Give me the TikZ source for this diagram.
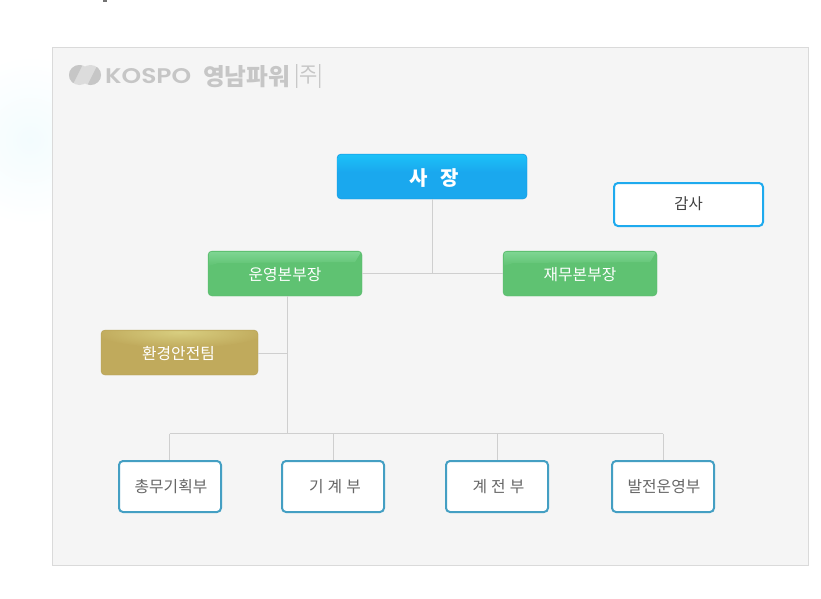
\documentclass[tikz,border=0pt]{standalone}
\usepackage{fontspec}
\setmainfont{Noto Sans CJK KR}
\newfontfamily\latinlogo{Poppins SemiBold}
\usetikzlibrary{calc}
\definecolor{panelbg}{HTML}{F5F5F5}
\definecolor{panelln}{HTML}{DADADA}
\definecolor{connln}{HTML}{CFCFCF}
\definecolor{blueA}{HTML}{1AA8EE}
\definecolor{blueB}{HTML}{1CC2F8}
\definecolor{blueE}{HTML}{1597DD}
\definecolor{greenA}{HTML}{5FC272}
\definecolor{greenB}{HTML}{7ED592}
\definecolor{greenE}{HTML}{58B86C}
\definecolor{goldA}{HTML}{C0AA5C}
\definecolor{goldB}{HTML}{D8CE80}
\definecolor{goldE}{HTML}{B49F55}
\definecolor{auditln}{HTML}{1EAAEE}
\definecolor{deptln}{HTML}{449FC3}
\definecolor{depttx}{HTML}{666666}
\definecolor{logogr}{HTML}{C6C6C6}
\definecolor{logolt}{HTML}{DCDCDC}
\definecolor{glow}{HTML}{F3FCFE}
\tikzset{
  x=1pt,y=-1pt,
  boxbase/.style={rectangle,rounded corners=4pt,inner sep=0pt,align=center},
  blueb/.style={boxbase,draw=blueE,fill=blueA},
  greenb/.style={boxbase,draw=greenE,fill=greenA},
  goldb/.style={boxbase,draw=goldE,fill=goldA},
  auditb/.style={boxbase,draw=auditln,line width=2pt,fill=white},
  deptb/.style={boxbase,draw=deptln,line width=2pt,fill=white},
  ceotx/.style={inner sep=0pt,text=white,font=\bfseries\fontsize{20}{22}\selectfont},
  whitetx/.style={inner sep=0pt,text=white,font=\fontsize{15.8}{18}\selectfont},
  audittx/.style={inner sep=0pt,text=black!75,font=\fontsize{15.5}{18}\selectfont},
  depttxs/.style={inner sep=0pt,text=depttx,font=\fontsize{15.8}{18}\selectfont},
  conn/.style={draw=connln,line width=1pt},
  logotx/.style={inner sep=0pt,text=logogr}
}
\begin{document}
\begin{tikzpicture}
\useasboundingbox (0,0) rectangle (821,598);
\fill[white] (0,0) rectangle (821,598);
\begin{scope}
\clip (0,0) rectangle (52,598);
\shade[inner color=glow,outer color=white] (30,140) ellipse [x radius=85,y radius=85];
\end{scope}
\fill[black!55] (103,0) rectangle (107,1.5);
\filldraw[draw=panelln,fill=panelbg,line width=1pt] (52.5,47.5) rectangle (808.5,565.5);

% logo
\fill[logolt] (79.5,75) ellipse [x radius=10.5,y radius=10];
\fill[logolt] (90.5,75) ellipse [x radius=10.5,y radius=10];
\begin{scope}
\clip (60,60) -- (85,60) -- (70,90) -- (60,90) -- cycle;
\fill[logogr] (79.5,75) ellipse [x radius=10.5,y radius=10];
\end{scope}
\begin{scope}
\clip (110,60) -- (100,60) -- (85,90) -- (110,90) -- cycle;
\fill[logogr] (90.5,75) ellipse [x radius=10.5,y radius=10];
\end{scope}
\node[logotx,anchor=west] (logoa) at (105,76) {\resizebox{86pt}{15pt}{\latinlogo KOSPO}};
\node[logotx,anchor=west] (logob) at (203,76.5) {\resizebox{87pt}{20pt}{\bfseries 영남파워}};
\node[logotx,anchor=west] (logoc) at (294,76.5) {\resizebox{29pt}{18pt}{|주|}};

% nodes
\node[blueb,minimum width=190pt,minimum height=45pt] (ceo) at (432,176.5) {};
\node[auditb,minimum width=149pt,minimum height=43pt] (audit) at (688.5,204.5) {};
\node[greenb,minimum width=154pt,minimum height=45pt] (oper) at (285,273.5) {};
\node[greenb,minimum width=154pt,minimum height=45pt] (fin) at (580,273.5) {};
\node[goldb,minimum width=157pt,minimum height=45pt] (env) at (179.5,352.5) {};

% highlights
\begin{scope}
\clip[rounded corners=4pt] (337.5,154.5) rectangle (526.5,198.5);
\shade[top color=blueB,bottom color=blueA] (337,154) rectangle (527,172);
\end{scope}
\begin{scope}
\clip[rounded corners=4pt] (208.5,251.5) rectangle (361.5,295.5);
\shade[top color=greenB,bottom color=greenA] (209,252) -- (361,252) -- (355,262) -- (218,263) -- (209,266) -- cycle;
\end{scope}
\begin{scope}
\clip[rounded corners=4pt] (503.5,251.5) rectangle (656.5,295.5);
\shade[top color=greenB,bottom color=greenA] (504,252) -- (656,252) -- (650,262) -- (513,263) -- (504,266) -- cycle;
\end{scope}
\begin{scope}
\clip[rounded corners=4pt] (101.5,330.5) rectangle (257.5,374.5);
\shade[inner color=goldB,outer color=goldA] (180,332) ellipse [x radius=85,y radius=16];
\end{scope}

\node[ceotx] (ceot) at (434,178) {사\hspace{13pt}장};
\node[whitetx] (opert) at (285,274.5) {운영본부장};
\node[whitetx] (fint) at (580,274.5) {재무본부장};
\node[whitetx] (envt) at (178.5,354) {환경안전팀};
\node[audittx] (auditt) at (688.5,204) {감사};

\node[deptb,minimum width=102pt,minimum height=51pt] (d1) at (170,486.5) {};
\node[deptb,minimum width=102pt,minimum height=51pt] (d2) at (333,486.5) {};
\node[deptb,minimum width=102pt,minimum height=51pt] (d3) at (497,486.5) {};
\node[deptb,minimum width=102pt,minimum height=51pt] (d4) at (663,486.5) {};
\node[depttxs] (d1t) at (171,487) {총무기획부};
\node[depttxs] (d2t) at (335,487) {기\hspace{4pt}계\hspace{4pt}부};
\node[depttxs] (d3t) at (498.5,487) {계\hspace{4pt}전\hspace{4pt}부};
\node[depttxs] (d4t) at (664,487) {발전운영부};

% connectors
\coordinate (bus) at (287.5,433.5);
\coordinate (envj) at (287.5,353.5);
\draw[conn] (ceo.south) -- (ceo.south |- oper.east);
\draw[conn] (oper.east) -- (fin.west);
\draw[conn] (oper.south -| bus) -- (bus);
\draw[conn] (env.east |- envj) -- (envj);
\draw[conn] ($(d1.north |- bus)+(-0.5,0)$) -- (d4.north |- bus);
\draw[conn] ($(d1.north |- bus)+(-0.5,0)$) -- ($(d1.north)+(-0.5,0)$);
\draw[conn] (d2.north |- bus) -- (d2.north);
\draw[conn] (d3.north |- bus) -- (d3.north);
\draw[conn] (d4.north |- bus) -- (d4.north);
\end{tikzpicture}
\end{document}
